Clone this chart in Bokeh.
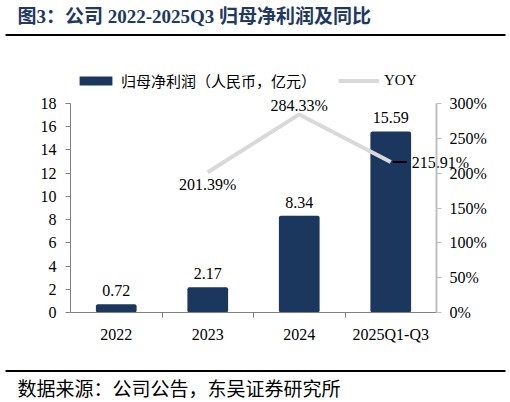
from bokeh.plotting import figure
from bokeh.models import (Range1d, LinearAxis, FixedTicker, PrintfTickFormatter,
                          Legend, LegendItem, ColumnDataSource)
from bokeh.core.properties import value
from bokeh.embed import file_html
from bokeh.resources import INLINE

categories = ["2022", "2023", "2024", "2025Q1-Q3"]
profit = [0.72, 2.17, 8.34, 15.59]
yoy = [None, 201.39, 284.33, 215.91]
left_ticks = [0, 2, 4, 6, 8, 10, 12, 14, 16, 18]
right_ticks = [0, 50, 100, 150, 200, 250, 300]
title_text = "图3：公司 2022-2025Q3 归母净利润及同比"
source_text = "数据来源：公司公告，东吴证券研究所"
bar_name = "归母净利润（人民币，亿元）"
line_name = "YOY"

SERIF = "'Liberation Serif', 'Noto Sans CJK SC'"
CJK = "'Noto Sans CJK SC', 'Liberation Serif'"
NAVY = "#1B375E"

# ---- page layout (pixels) ----
W, H = 510, 402
PL, PR, PT, PB = 70, 436, 103, 312       # plot area edges
YMAX, RMAX = 18, 300
n = len(categories)
xs = (PR - PL) / n
ys = (PB - PT) / YMAX
rs = (PB - PT) / RMAX


def sx(px):
    return (px - PL) / xs


def sy(py):
    return (PB - py) / ys


p = figure(width=W, height=H,
           x_range=Range1d(-PL / xs, n + (W - PR) / xs),
           y_range=Range1d(-(H - PB) / ys, YMAX + PT / ys),
           output_backend="svg", toolbar_location=None, min_border=0)
p.outline_line_color = None
p.grid.visible = False
p.background_fill_color = "white"

idx = [i + 0.5 for i in range(n)]

# bottom axis
xa = p.xaxis[0]
xa.fixed_location = 0
xa.bounds = (0, n)
xa.ticker = FixedTicker(ticks=idx, minor_ticks=list(range(1, n)))
xa.major_label_overrides = {x: c for x, c in zip(idx, categories)}
xa.major_tick_line_color = None
xa.major_tick_out = 0
xa.major_tick_in = 0
xa.minor_tick_out = 5
xa.minor_tick_in = 0
xa.minor_tick_line_color = "#808080"
xa.axis_line_color = "#808080"
xa.major_label_text_font = SERIF
xa.major_label_text_font_size = "16px"
xa.major_label_text_color = "black"
xa.major_label_standoff = 8

# left axis
ya = p.yaxis[0]
ya.fixed_location = 0
ya.bounds = (0, YMAX)
ya.ticker = FixedTicker(ticks=left_ticks)
ya.minor_tick_line_color = None
ya.major_tick_out = 5
ya.major_tick_in = 0
ya.axis_line_color = "#808080"
ya.major_tick_line_color = "#808080"
ya.major_label_text_font = SERIF
ya.major_label_text_font_size = "16px"
ya.major_label_text_color = "black"
ya.major_label_standoff = 9

# right axis
p.extra_y_ranges = {"yoy": Range1d(-(H - PB) / rs, RMAX + PT / rs)}
ra = LinearAxis(y_range_name="yoy", ticker=FixedTicker(ticks=right_ticks),
                formatter=PrintfTickFormatter(format="%d%%"))
ra.fixed_location = n
ra.bounds = (0, RMAX)
ra.minor_tick_line_color = None
ra.major_tick_out = 5
ra.major_tick_in = 0
ra.axis_line_color = "#BFBFBF"
ra.axis_line_width = 2
ra.major_tick_line_color = "#BFBFBF"
ra.major_label_text_font = SERIF
ra.major_label_text_font_size = "16px"
ra.major_label_text_color = "black"
ra.major_label_standoff = 8
p.add_layout(ra, "right")

# bars
bsrc = ColumnDataSource(dict(x=idx, top=profit, lab=[f"{v:.2f}" for v in profit]))
bars = p.vbar(x="x", top="top", width=0.445, source=bsrc, fill_color=NAVY,
              line_color=None, border_radius=2)
p.text(x="x", y="top", text="lab", source=bsrc, text_font=value(SERIF),
       text_font_size="16px", text_align="center", text_baseline="bottom",
       y_offset=-8, text_color="black")

# YOY line
lx = [x for x, v in zip(idx, yoy) if v is not None]
ly = [v for v in yoy if v is not None]
line = p.line(x=lx, y=ly, y_range_name="yoy", line_color="#D9D9D9", line_width=4)

labs = [f"{v:.2f}%" for v in ly]
p.text(x=[lx[0]], y=[ly[0]], text=[labs[0]], y_range_name="yoy", text_font=value(SERIF),
       text_font_size="16px", text_align="center", text_baseline="top", y_offset=4)
p.text(x=[lx[1]], y=[ly[1]], text=[labs[1]], y_range_name="yoy", text_font=value(SERIF),
       text_font_size="16px", text_align="center", text_baseline="bottom", y_offset=0)
p.text(x=[lx[2]], y=[ly[2]], text=[labs[2]], y_range_name="yoy", text_font=value(SERIF),
       text_font_size="16px", text_align="left", text_baseline="middle", x_offset=21)
p.segment(x0=[lx[2] + 2 / xs], y0=[ly[2]], x1=[lx[2] + 16 / xs], y1=[ly[2]],
          y_range_name="yoy", line_color="black", line_width=2)

# legend
legend = Legend(items=[LegendItem(label=bar_name, renderers=[bars]),
                       LegendItem(label=line_name, renderers=[line])],
                orientation="horizontal", location=(75, H - 78 - 13))
legend.label_text_font = SERIF
legend.label_text_font_size = "15px"
legend.label_text_color = "black"
legend.glyph_width = 41
legend.glyph_height = 11
legend.label_standoff = 5
legend.spacing = 22
legend.padding = 4
legend.margin = 0
legend.border_line_color = None
legend.background_fill_alpha = 0
p.add_layout(legend)

# title, rules and source
p.text(x=[sx(17)], y=[sy(16)], text=[title_text], text_font=value(SERIF),
       text_font_size="19px", text_font_style="bold", text_color="#203864",
       text_baseline="middle", text_align="left")
p.segment(x0=[sx(5), sx(5)], y0=[sy(34.5), sy(370.5)],
          x1=[sx(505), sx(505)], y1=[sy(34.5), sy(370.5)],
          line_color="black", line_width=2)
p.text(x=[sx(17)], y=[sy(387)], text=[source_text], text_font=value(CJK),
       text_font_size="19px", text_color="black", text_baseline="middle",
       text_align="left")

open("out.html", "w").write(file_html(p, INLINE))
